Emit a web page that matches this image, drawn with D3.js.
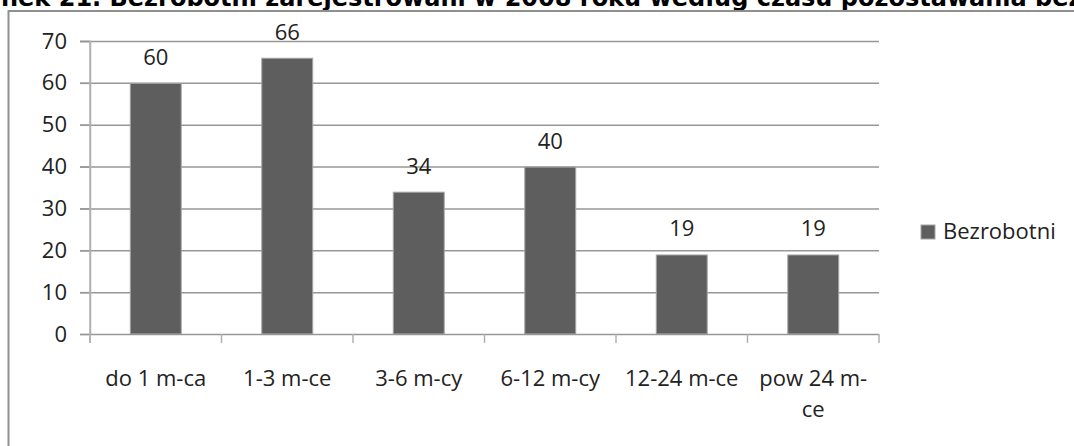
<!DOCTYPE html>
<html>
<head>
<meta charset="utf-8">
<script src="https://cdn.jsdelivr.net/npm/d3@7"></script>
<style>
  html, body { margin: 0; padding: 0; background: #fff; }
  svg { display: block; }
</style>
</head>
<body>
<svg id="chart" width="1074" height="446"></svg>
<script>
const titleText = "Rysunek 21. Bezrobotni zarejestrowani w 2008 roku według czasu pozostawania bez pracy";
const categories = ["do 1 m-ca", "1-3 m-ce", "3-6 m-cy", "6-12 m-cy", "12-24 m-ce", "pow 24 m-ce"];
const categoryLines = [["do 1 m-ca"], ["1-3 m-ce"], ["3-6 m-cy"], ["6-12 m-cy"], ["12-24 m-ce"], ["pow 24 m-", "ce"]];
const values = [60, 66, 34, 40, 19, 19];
const seriesName = "Bezrobotni";
const yTicks = [0, 10, 20, 30, 40, 50, 60, 70];

(function () {
const svg = d3.select("#chart");
const font = "'Open Sans', sans-serif";
const fs = 22;

// Title (cut off at top, like reference)
const title = svg.append("text")
  .attr("y", 6)
  .attr("font-family", "'DejaVu Sans', Verdana, sans-serif")
  .attr("font-weight", "bold")
  .attr("font-size", 24)
  .attr("fill", "#000")
  .text(titleText);
const pre = title.node().getSubStringLength(0, 4);
title.attr("x", -pre + 1);

// Chart frame
svg.append("path")
  .attr("d", "M8.5,446 V11 H1074")
  .attr("fill", "none")
  .attr("stroke", "#8f8f8f")
  .attr("stroke-width", 2);

const pLeft = 90, pRight = 879, pTop = 41, pBottom = 334;
const y = d3.scaleLinear().domain([0, 70]).range([pBottom, pTop]);
const x = d3.scaleBand().domain(categories).range([pLeft, pRight])
  .paddingInner(0.605).paddingOuter(0.3025);
const xCat = d3.scaleBand().domain(categories).range([pLeft, pRight]).padding(0);

// Gridlines
svg.append("g").selectAll("line")
  .data(yTicks.filter(d => d > 0))
  .join("line")
  .attr("x1", pLeft - 10).attr("x2", pRight)
  .attr("y1", d => y(d) + 0.5).attr("y2", d => y(d) + 0.5)
  .attr("stroke", "#979797").attr("stroke-width", 1.5);

// Y axis
const yAxis = svg.append("g").attr("transform", `translate(${pLeft},0)`)
  .call(d3.axisLeft(y).tickValues(yTicks).tickSize(10).tickPadding(13).tickFormat(d3.format("d")));
yAxis.select(".domain").attr("stroke", "#b0b0b0").attr("stroke-width", 1.5);
yAxis.selectAll(".tick line").attr("stroke", "#979797").attr("stroke-width", 1.5);
yAxis.selectAll("text").attr("font-family", font).attr("font-size", fs).attr("fill", "#222");

// Bars
svg.append("g").selectAll("rect")
  .data(values)
  .join("rect")
  .attr("x", (d, i) => x(categories[i]) + 0.5)
  .attr("y", d => y(d) + 0.5)
  .attr("width", x.bandwidth() - 1)
  .attr("height", d => pBottom - y(d) - 0.5)
  .attr("fill", "#5e5e5e")
  .attr("stroke", "#a6a6a6")
  .attr("stroke-width", 1);

// X axis line and ticks
svg.append("line")
  .attr("x1", pLeft).attr("x2", pRight)
  .attr("y1", pBottom + 0.5).attr("y2", pBottom + 0.5)
  .attr("stroke", "#979797").attr("stroke-width", 1.5);
const tickXs = categories.map(c => xCat(c)).concat([pRight]);
svg.append("g").selectAll("line")
  .data(tickXs)
  .join("line")
  .attr("x1", d => d).attr("x2", d => d)
  .attr("y1", pBottom).attr("y2", pBottom + 9)
  .attr("stroke", "#b0b0b0").attr("stroke-width", 1.5);
svg.append("line")
  .attr("x1", pLeft).attr("x2", pLeft)
  .attr("y1", pTop).attr("y2", pBottom + 9)
  .attr("stroke", "#b0b0b0").attr("stroke-width", 1.5);

// Category labels
const cat = svg.append("g").selectAll("text")
  .data(categories)
  .join("text")
  .attr("font-family", font).attr("font-size", fs).attr("fill", "#222")
  .attr("text-anchor", "middle");
cat.each(function(c, i) {
  const t = d3.select(this);
  categoryLines[i].forEach((ln, j) => {
    t.append("tspan")
      .attr("x", xCat(c) + xCat.bandwidth() / 2)
      .attr("y", 386 + j * 31)
      .text(ln);
  });
});

// Data labels
svg.append("g").selectAll("text")
  .data(values)
  .join("text")
  .attr("x", (d, i) => x(categories[i]) + x.bandwidth() / 2)
  .attr("y", d => y(d) - 18)
  .attr("text-anchor", "middle")
  .attr("font-family", font).attr("font-size", fs).attr("fill", "#222")
  .text(d => d);

// Legend
const lg = svg.append("g").attr("transform", "translate(921,225)");
lg.append("rect").attr("width", 14).attr("height", 14).attr("fill", "#5e5e5e").attr("stroke", "#a6a6a6");
lg.append("text").attr("x", 22).attr("y", 14)
  .attr("font-family", font).attr("font-size", fs).attr("fill", "#222")
  .text(seriesName);
})();
</script>
</body>
</html>
